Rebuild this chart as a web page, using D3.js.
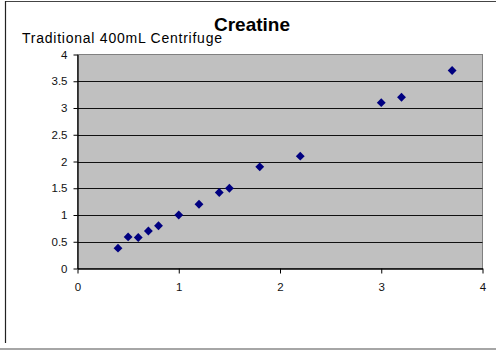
<!DOCTYPE html>
<html>
<head>
<meta charset="utf-8">
<script src="https://cdn.jsdelivr.net/npm/d3@7/dist/d3.min.js"></script>
<style>
  html, body { margin: 0; padding: 0; background: #fff; }
  svg { display: block; font-family: Arial, "Liberation Sans", sans-serif; }
</style>
</head>
<body>
<svg id="chart" width="496" height="350"></svg>
<script>
// Creatine: traditional 400 mL centrifuge readings (x) vs. comparison (y)
const xValues = [0.4, 0.5, 0.6, 0.7, 0.8, 1.0, 1.2, 1.4, 1.5, 1.8, 2.2, 3.0, 3.2, 3.7];
const yValues = [0.38, 0.59, 0.58, 0.70, 0.80, 1.0, 1.2, 1.42, 1.5, 1.9, 2.1, 3.1, 3.2, 3.7];
const xTicks = [0, 1, 2, 3, 4];
const yTicks = [0, 0.5, 1, 1.5, 2, 2.5, 3, 3.5, 4];
const chartTitle = "Creatine";
const yTitle = "Traditional 400mL Centrifuge";

const svg = d3.select("#chart");
const plot = { left: 77.5, right: 482.5, top: 54.5, bottom: 268.5 };

const x = d3.scaleLinear().domain([0, 4]).range([plot.left, plot.right]);
const y = d3.scaleLinear().domain([0, 4]).range([plot.bottom, plot.top]);

// outer chart frame (partially visible)
svg.append("line").attr("x1", 5).attr("x2", 496).attr("y1", 1.5).attr("y2", 1.5)
  .attr("stroke", "#444").attr("stroke-width", 1);
svg.append("line").attr("x1", 5.5).attr("x2", 5.5).attr("y1", 1).attr("y2", 343)
  .attr("stroke", "#222").attr("stroke-width", 1.2);
svg.append("line").attr("x1", 0).attr("x2", 496).attr("y1", 349).attr("y2", 349)
  .attr("stroke", "#888").attr("stroke-width", 1.5);

// plot area background
svg.append("rect")
  .attr("x", plot.left).attr("y", plot.top)
  .attr("width", plot.right - plot.left).attr("height", plot.bottom - plot.top)
  .attr("fill", "#c0c0c0").attr("stroke", "#808080").attr("stroke-width", 1);

// horizontal gridlines
svg.append("g").selectAll("line")
  .data(yTicks.filter(d => d > 0 && d < 4))
  .join("line")
  .attr("x1", plot.left).attr("x2", plot.right)
  .attr("y1", d => Math.round(y(d)) + 0.5).attr("y2", d => Math.round(y(d)) + 0.5)
  .attr("stroke", "#111").attr("stroke-width", 1.2);

// axes
const xAxis = d3.axisBottom(x).tickValues(xTicks).tickFormat(d3.format("d"))
  .tickSizeInner(5).tickSizeOuter(0).tickPadding(9);
const yAxis = d3.axisLeft(y).tickValues(yTicks).tickFormat(d => String(d))
  .tickSizeInner(4).tickSizeOuter(0).tickPadding(6);

const gx = svg.append("g").attr("transform", `translate(0,${plot.bottom})`).call(xAxis);
const gy = svg.append("g").attr("transform", `translate(${plot.left},0)`).call(yAxis);
[gx, gy].forEach(g => {
  g.select(".domain").attr("stroke", "#000").attr("stroke-width", 1.3);
  g.selectAll(".tick line").attr("stroke", "#000");
  g.selectAll("text").attr("font-size", 11.5).attr("fill", "#111")
    .attr("font-family", "Arial, 'Liberation Sans', sans-serif");
});

// diamond markers
const diamond = d3.symbol().type(d3.symbolDiamond2).size(50);
svg.append("g").selectAll("path")
  .data(xValues.map((v, i) => [v, yValues[i]]))
  .join("path")
  .attr("d", diamond)
  .attr("transform", d => `translate(${x(d[0])},${y(d[1])})`)
  .attr("fill", "#000080");

// titles
svg.append("text").attr("x", 252).attr("y", 31).attr("text-anchor", "middle")
  .attr("font-size", 19).attr("font-weight", "bold").attr("fill", "#000")
  .text(chartTitle);
svg.append("text").attr("x", 22).attr("y", 43)
  .attr("font-size", 14).attr("fill", "#000")
  .attr("textLength", 200).attr("lengthAdjust", "spacing")
  .text(yTitle);
</script>
</body>
</html>
